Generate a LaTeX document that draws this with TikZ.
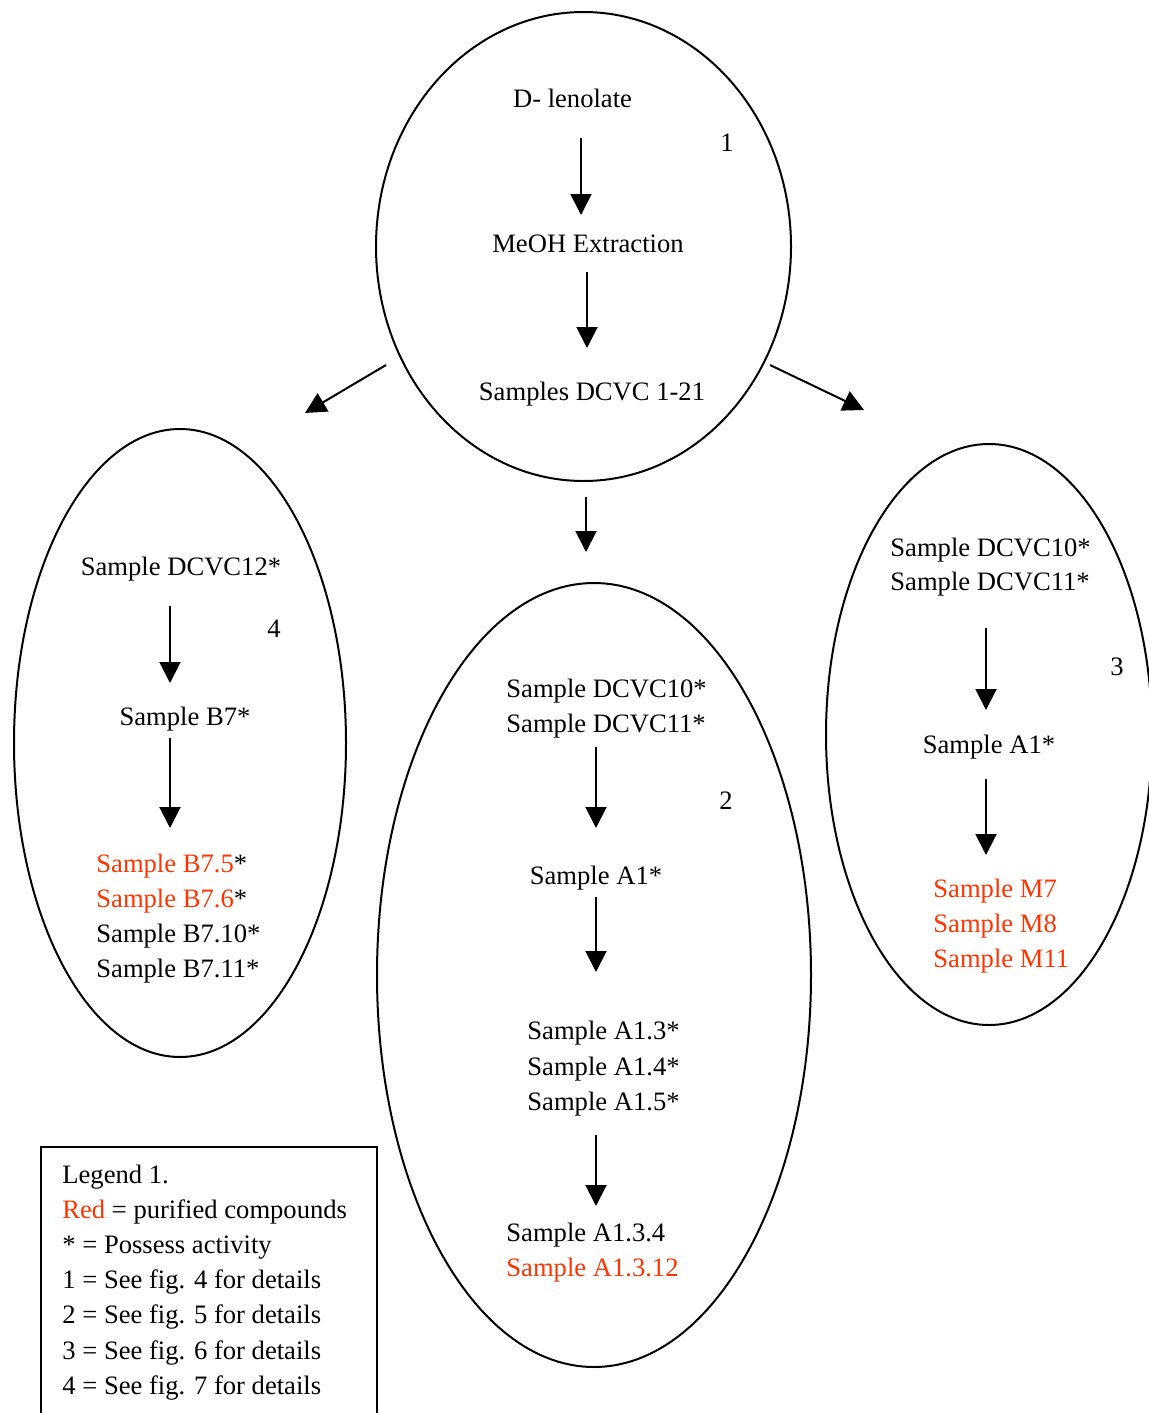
\documentclass[tikz,border=0pt]{standalone}
\usepackage{fontspec}
\setmainfont{Liberation Serif}
\usetikzlibrary{shapes.geometric,arrows.meta}
\definecolor{myred}{RGB}{255,51,0}
\begin{document}
\begin{tikzpicture}[x=0.5pt,y=-0.5pt,
  txt/.style={font=\fontsize{13.3pt}{16pt}\selectfont,inner sep=0pt},
  oval/.style={draw,ellipse,line width=1pt,inner sep=0pt,outer sep=0pt},
  arr/.style={line width=1pt,-{Triangle[length=10.5pt,width=10.5pt]}},
  legendbox/.style={draw,line width=0.8pt,inner sep=0pt,outer sep=0pt}]
  \useasboundingbox (0,0) rectangle (1149,1413);
  \node[oval,minimum width=207.5pt,minimum height=234.5pt] (e1) at (583.5,246.5) {};
  \node[oval,minimum width=166pt,minimum height=314pt] (e4) at (180,743) {};
  \node[oval,minimum width=217pt,minimum height=392pt] (e2) at (594,975) {};
  \node[oval,minimum width=163pt,minimum height=290.5pt] (e3) at (989,734.5) {};

  \node[txt,anchor=base] (dl) at (572.5,108) {D- lenolate};
  \node[txt,anchor=base] (n1) at (727,152) {1};
  \node[txt,anchor=base] (meoh) at (588,252) {MeOH Extraction};
  \node[txt,anchor=base] (dcvc) at (592,400) {Samples DCVC 1-21};
  \draw[arr] ([shift={(8.5,30)}]dl.base) -- ([shift={(-7,-37)}]meoh.base);
  \draw[arr] ([shift={(-1,20)}]meoh.base) -- ([shift={(-5,-52)}]dcvc.base);

  \draw[arr] ([shift={(10,118.5)}]e1.west) -- ([shift={(125,-16)}]e4.north);
  \draw[arr] ([shift={(-21,118.5)}]e1.east) -- ([shift={(-125,-34)}]e3.north);
  \draw[arr] ([shift={(2.5,16)}]e1.south) -- ([shift={(-8,-31)}]e2.north);

  \node[txt,anchor=base] (s12) at (181,575) {Sample DCVC12*};
  \node[txt,anchor=base] (n4) at (274,637) {4};
  \node[txt,anchor=base] (b7) at (185,725) {Sample B7*};
  \node[txt,anchor=base west] (b75) at (96,872) {\textcolor{myred}{Sample B7.5}*};
  \node[txt,anchor=base west] (b76) at (96,907) {\textcolor{myred}{Sample B7.6}*};
  \node[txt,anchor=base west] (b710) at (96,942) {Sample B7.10*};
  \node[txt,anchor=base west] (b711) at (96,977) {Sample B7.11*};
  \draw[arr] ([shift={(-11,31)}]s12.base) -- ([shift={(-15,-42)}]b7.base);
  \draw[arr] ([shift={(-15,13)}]b7.base) -- ([shift={(74,-44)}]b75.base west);

  \node[txt,anchor=base west] (m10) at (506,697) {Sample DCVC10*};
  \node[txt,anchor=base west] (m11) at (506,732) {Sample DCVC11*};
  \node[txt,anchor=base] (n2) at (726,809) {2};
  \node[txt,anchor=base] (ma1) at (596,884) {Sample A1*};
  \node[txt,anchor=base west] (a13) at (527,1039) {Sample A1.3*};
  \node[txt,anchor=base west] (a14) at (527,1075) {Sample A1.4*};
  \node[txt,anchor=base west] (a15) at (527,1110) {Sample A1.5*};
  \node[txt,anchor=base west] (a134) at (506,1241) {Sample A1.3.4};
  \node[txt,anchor=base west,text=myred] (a1312) at (506,1276) {Sample A1.3.12};
  \draw[arr] ([shift={(90,15)}]m11.base west) -- ([shift={(0,-56)}]ma1.base);
  \draw[arr] ([shift={(0,13)}]ma1.base) -- ([shift={(69,-67)}]a13.base west);
  \draw[arr] ([shift={(69,25)}]a15.base west) -- ([shift={(90,-35)}]a134.base west);

  \node[txt,anchor=base west] (r10) at (890,556) {Sample DCVC10*};
  \node[txt,anchor=base west] (r11) at (890,590) {Sample DCVC11*};
  \node[txt,anchor=base] (n3) at (1117,675) {3};
  \node[txt,anchor=base] (ra1) at (989,753) {Sample A1*};
  \node[txt,anchor=base west,text=myred] (m7) at (933,897) {Sample M7};
  \node[txt,anchor=base west,text=myred] (m8) at (933,932) {Sample M8};
  \node[txt,anchor=base west,text=myred] (m11) at (933,967) {Sample M11};
  \draw[arr] ([shift={(96,38)}]r11.base west) -- ([shift={(-3,-43)}]ra1.base);
  \draw[arr] ([shift={(-3,26)}]ra1.base) -- ([shift={(53,-42)}]m7.base west);

  \node[legendbox,anchor=north west,minimum width=168pt,minimum height=150pt] (lg) at (41,1147) {};
  \node[txt,anchor=base west] (lg1) at (62,1183) {Legend 1.};
  \node[txt,anchor=base west] (lg2) at (62,1218) {\textcolor{myred}{Red} = purified compounds};
  \node[txt,anchor=base west] (lg3) at (62,1253) {* = Possess activity};
  \node[txt,anchor=base west] (lg4) at (62,1288) {1 = See fig. 4 for details};
  \node[txt,anchor=base west] (lg5) at (62,1323) {2 = See fig. 5 for details};
  \node[txt,anchor=base west] (lg6) at (62,1359) {3 = See fig. 6 for details};
  \node[txt,anchor=base west] (lg7) at (62,1394) {4 = See fig. 7 for details};
\end{tikzpicture}
\end{document}
